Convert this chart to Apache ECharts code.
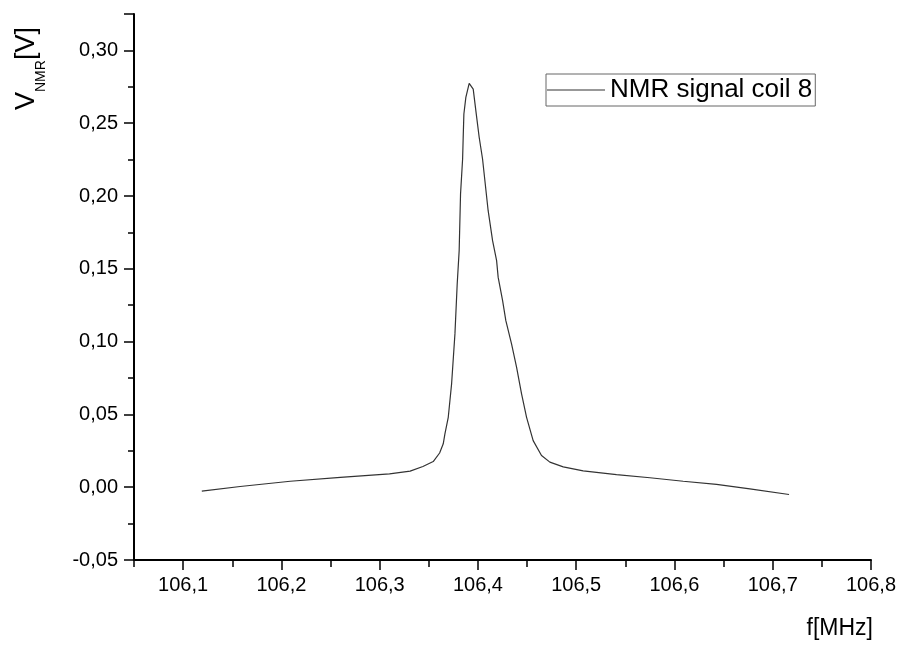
<!DOCTYPE html>
<html>
<head>
<meta charset="utf-8">
<title>NMR signal coil 8</title>
<script src="https://cdn.jsdelivr.net/npm/echarts@6/dist/echarts.min.js"></script>
<style>
  html, body { margin: 0; padding: 0; background: #fff; }
  #chart { width: 900px; height: 646px; }
</style>
</head>
<body>
<div id="chart"></div>
<script>
// frequency [MHz] and NMR voltage [V]
const freq = [
  106.119, 106.158, 106.209, 106.260, 106.310, 106.331, 106.344, 106.3545,
  106.361, 106.3647, 106.3664, 106.3698, 106.3732, 106.3766, 106.3789, 106.3809,
  106.3823, 106.3844, 106.385, 106.3857, 106.3877, 106.3911, 106.3952, 106.3979,
  106.4013, 106.4047, 106.4104, 106.4149, 106.419, 106.4206, 106.4251, 106.4284,
  106.4342, 106.4393, 106.4444, 106.4495, 106.4562, 106.4647, 106.4732, 106.4868,
  106.5071, 106.541, 106.575, 106.6089, 106.6428, 106.6767, 106.7166
]
const volt = [
  -0.0027, 0.0005, 0.0041, 0.0068, 0.0092, 0.0110, 0.0142, 0.0176,
  0.0235, 0.0298, 0.0366, 0.0480, 0.0710, 0.1053, 0.1396, 0.1625,
  0.2014, 0.2254, 0.2402, 0.2563, 0.2677, 0.2773, 0.2734, 0.2585,
  0.2402, 0.2254, 0.1899, 0.1693, 0.1556, 0.1441, 0.1281, 0.1144,
  0.0984, 0.0824, 0.0641, 0.0480, 0.0320, 0.0218, 0.0172, 0.0140,
  0.0112, 0.0087, 0.0065, 0.0041, 0.0019, -0.0011, -0.0050
]

const xTicks = [106.1, 106.2, 106.3, 106.4, 106.5, 106.6, 106.7, 106.8]
const xMinorTicks = [106.05, 106.15, 106.25, 106.35, 106.45, 106.55, 106.65, 106.75]
const yTicks = [-0.05, 0, 0.05, 0.1, 0.15, 0.2, 0.25, 0.3]
const yMinorTicks = [-0.025, 0.025, 0.075, 0.125, 0.175, 0.225, 0.275]
const yTopTick = [0.325]

const seriesName = 'NMR signal coil 8'
const font = 'Liberation Sans, Arial, sans-serif'

const chart = echarts.init(document.getElementById('chart'))

const xRange = {min: 106.05, max: 106.8}
const yRange = {min: -0.05, max: 0.325}

const option = {
  backgroundColor: '#fff',
  animation: false,
  grid: {
    left: 134,
    right: 29,
    top: 14,
    bottom: 86
  },
  legend: {
    left: 546,
    top: 74,
    padding: [3, 3, 3, 1],
    borderColor: '#666',
    borderWidth: 1,
    itemWidth: 58,
    itemHeight: 1,
    icon: 'rect',
    textStyle: {
      color: '#000',
      fontSize: 26,
      fontFamily: font
    },
    data: [seriesName]
  },
  xAxis: [{
    type: 'value',
    position: 'bottom',
    ...xRange,
    axisLine: {onZero: false, lineStyle: {color: '#000', width: 2}},
    axisTick: {
      customValues: xTicks,
      length: 10,
      lineStyle: {color: '#000', width: 1.5}
    },
    axisLabel: {
      customValues: xTicks,
      margin: 15,
      color: '#000',
      fontSize: 20,
      fontFamily: font,
      formatter: v => v.toFixed(1).replace('.', ',')
    },
    splitLine: {show: false}
  }, {
    type: 'value',
    position: 'bottom',
    offset: 0,
    ...xRange,
    axisLine: {show: false, onZero: false},
    axisTick: {
      customValues: xMinorTicks,
      length: 7,
      lineStyle: {color: '#000', width: 1.5}
    },
    axisLabel: {show: false},
    splitLine: {show: false}
  }],
  yAxis: [{
    type: 'value',
    position: 'left',
    ...yRange,
    axisLine: {show: true, onZero: false, lineStyle: {color: '#000', width: 2}},
    axisTick: {
      show: true,
      customValues: yTicks.concat(yTopTick),
      length: 10,
      lineStyle: {color: '#000', width: 1.5}
    },
    axisLabel: {
      customValues: yTicks,
      margin: 16,
      color: '#000',
      fontSize: 20,
      fontFamily: font,
      formatter: v => v.toFixed(2).replace('.', ',')
    },
    splitLine: {show: false}
  }, {
    type: 'value',
    position: 'left',
    offset: 0,
    ...yRange,
    axisLine: {show: false, onZero: false},
    axisTick: {
      show: true,
      customValues: yMinorTicks,
      length: 6,
      lineStyle: {color: '#000', width: 1.5}
    },
    axisLabel: {show: false},
    splitLine: {show: false}
  }],
  series: [{
    name: seriesName,
    type: 'line',
    showSymbol: false,
    symbol: 'none',
    color: '#333',
    lineStyle: {color: '#333', width: 1.2},
    data: freq.map((f, i) => [f, volt[i]])
  }],
  graphic: [
    {
      type: 'text', x: 27, y: 110, rotation: Math.PI / 2,
      style: {text: 'V', font: '27px ' + font, fill: '#000', textAlign: 'left', textVerticalAlign: 'middle'}
    },
    {
      type: 'text', x: 41, y: 92, rotation: Math.PI / 2,
      style: {text: 'NMR', font: '14px ' + font, fill: '#000', textAlign: 'left', textVerticalAlign: 'middle'}
    },
    {
      type: 'text', x: 27, y: 60, rotation: Math.PI / 2,
      style: {text: '[V]', font: '27px ' + font, fill: '#000', textAlign: 'left', textVerticalAlign: 'middle'}
    },
    {
      type: 'text', x: 873, y: 629,
      style: {text: 'f[MHz]', font: '23px ' + font, fill: '#000', textAlign: 'right', textVerticalAlign: 'middle'}
    }
  ]
}

chart.setOption(option)
</script>
</body>
</html>
